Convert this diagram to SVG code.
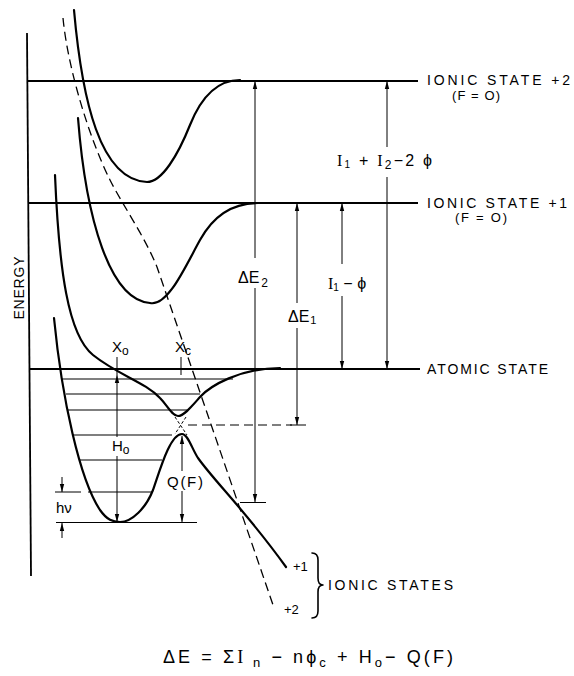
<svg xmlns="http://www.w3.org/2000/svg" width="574" height="676" viewBox="0 0 574 676">
<defs>
<style>
.curve{fill:none;stroke:#000;stroke-width:2.2;stroke-linecap:round;stroke-linejoin:round}
.state{fill:none;stroke:#000;stroke-width:1.8}
.level{fill:none;stroke:#000;stroke-width:1.2}
.thin{fill:none;stroke:#000;stroke-width:1}
.dash{fill:none;stroke:#000;stroke-width:1.3;stroke-dasharray:9 5}
.dashs{fill:none;stroke:#000;stroke-width:1;stroke-dasharray:3 2}
.dashh{fill:none;stroke:#000;stroke-width:1.1;stroke-dasharray:9 5}
.arr{fill:none;stroke:#000;stroke-width:1;marker-end:url(#ah)}
text{font-family:'Liberation Sans',Arial,sans-serif;fill:#000}
.lab{font-size:14px}
.math{font-size:16px}
.serif{font-family:'Liberation Serif','Times New Roman',serif}
</style>
<marker id="ah" viewBox="0 0 8 6" refX="8" refY="3" markerWidth="8" markerHeight="6" markerUnits="userSpaceOnUse" orient="auto"><path d="M0,0.8 L8,3 L0,5.2 Z" fill="#000"/></marker>
</defs>
<rect width="574" height="676" fill="#fff"/>

<g id="axis">
<path class="state" d="M27,33 L31,576"/>
<text class="lab" transform="translate(24,288) rotate(-90)" text-anchor="middle" font-size="13" textLength="63" lengthAdjust="spacing">ENERGY</text>
</g>

<g id="ionic-state-2">
<path class="state" d="M28,81 H418"/>
<text class="lab" x="427" y="85" textLength="143" lengthAdjust="spacing">IONIC STATE +2</text>
<text x="452" y="100" font-size="13" textLength="48" lengthAdjust="spacing">(F = O)</text>
</g>

<g id="ionic-state-1">
<path class="state" d="M28,203 H418"/>
<text class="lab" x="427" y="208" textLength="140" lengthAdjust="spacing">IONIC STATE +1</text>
<text x="455" y="222" font-size="13" textLength="52" lengthAdjust="spacing">(F = O)</text>
</g>

<g id="atomic-state">
<path class="state" d="M30,369 H420"/>
<text class="lab" x="427" y="374" textLength="121" lengthAdjust="spacing">ATOMIC STATE</text>
</g>

<g id="curves">
<path id="well-ionic-2" class="curve" d="M74,10 C82,100 100,180 147,182 C162,182 178,155 190,125 C200,100 215,80 240,80"/>
<path id="well-ionic-1" class="curve" d="M78,118 C86,220 110,300 150,303 C168,307 186,265 200,240 C212,218 230,203 258,203"/>
<path id="upper-branch" class="curve" d="M55,175 C59,270 68,335 93,355 C118,375 145,382 160,398 C167,405 172,416 178,416 C184,416 192,406 200,397 C210,386 240,368 280,368"/>
<path id="lower-branch" class="curve" d="M54,318 C62,400 80,480 100,510 C107,520 113,522 120,522 C132,522 146,508 153,490 C160,470 170,434 182,434 C188,434 192,449 198,458 C215,482 245,510 286,567"/>
<path id="ionic-2-field" class="dash" d="M63,18 C68,70 90,140 110,180 C122,204 145,237 157,267 L273,605"/>
<path class="dashs" d="M175,417 L187,435 M186,417 L175,434"/>
</g>

<g id="vibrational-levels">
<path class="level" d="M62,379 H233 M66,394 H200 M68,410 H187 M73,435 H172 M80,460 H162 M88,492 H152"/>
</g>

<g id="connectors">
<path class="dashh" d="M188,425 H292"/>
<path class="thin" d="M290,425 H306 M240,502.5 H266 M55,492 H81 M56,522.5 H197 M181,357 V375 M117,375 V357"/>
<path class="arr" d="M255,258 V81"/>
<path class="arr" d="M255,288 V502"/>
<path class="arr" d="M297,303 V203"/>
<path class="arr" d="M297,328 V425"/>
<path class="arr" d="M342,264 V203"/>
<path class="arr" d="M342,296 V369"/>
<path class="arr" d="M387,147 V81"/>
<path class="arr" d="M387,177 V369"/>
<path class="arr" d="M117,437 V375"/>
<path class="arr" d="M117,456 V522"/>
<path class="arr" d="M182,471 V436"/>
<path class="arr" d="M182,491 V522"/>
<path class="arr" d="M62,477 V492"/>
<path class="arr" d="M62,538 V523"/>
<path class="curve" style="stroke-width:1.6" d="M312,553 Q318,553 318,560 L318,578 Q318,585 323,585 Q318,585 318,592 L318,611 Q318,618 312,618"/>
</g>

<g id="labels">
<text class="math" x="238" y="283">ΔE<tspan font-size="12" dx="2" dy="4">2</tspan></text>
<text class="math" x="288" y="322">ΔE<tspan font-size="11" dx="1" dy="2">1</tspan></text>
<text class="math" x="328" y="289"><tspan class="serif">I</tspan><tspan font-size="10" dy="2">1</tspan><tspan dy="-2"> − ϕ</tspan></text>
<text class="math" x="337" y="166" textLength="95" lengthAdjust="spacing"><tspan class="serif">I</tspan><tspan font-size="10" dy="2">1</tspan><tspan dy="-2"> + </tspan><tspan class="serif">I</tspan><tspan font-size="12" dy="3">2</tspan><tspan dy="-3">−2 ϕ</tspan></text>
<text x="112" y="352" font-size="15">X<tspan font-size="12" dy="3">o</tspan></text>
<text x="175" y="352" font-size="15">X<tspan font-size="12" dy="3">c</tspan></text>
<text x="112" y="451" font-size="15">H<tspan font-size="12" dy="3">o</tspan></text>
<text x="167" y="487" font-size="15" textLength="36" lengthAdjust="spacing">Q(F)</text>
<text x="56" y="513" font-size="15">hν</text>
<text x="293" y="571" font-size="13">+1</text>
<text x="284" y="614" font-size="13">+2</text>
<text class="lab" x="328" y="590" textLength="125" lengthAdjust="spacing">IONIC STATES</text>
<text x="163" y="663" font-size="18" textLength="290" lengthAdjust="spacing">ΔE = Σ<tspan class="serif">I</tspan><tspan font-size="13" dy="4"> n</tspan><tspan dy="-4"> − nϕ</tspan><tspan font-size="13" dy="4">c</tspan><tspan dy="-4"> + H</tspan><tspan font-size="13" dy="4">o</tspan><tspan dy="-4">− Q(F)</tspan></text>
</g>
</svg>
